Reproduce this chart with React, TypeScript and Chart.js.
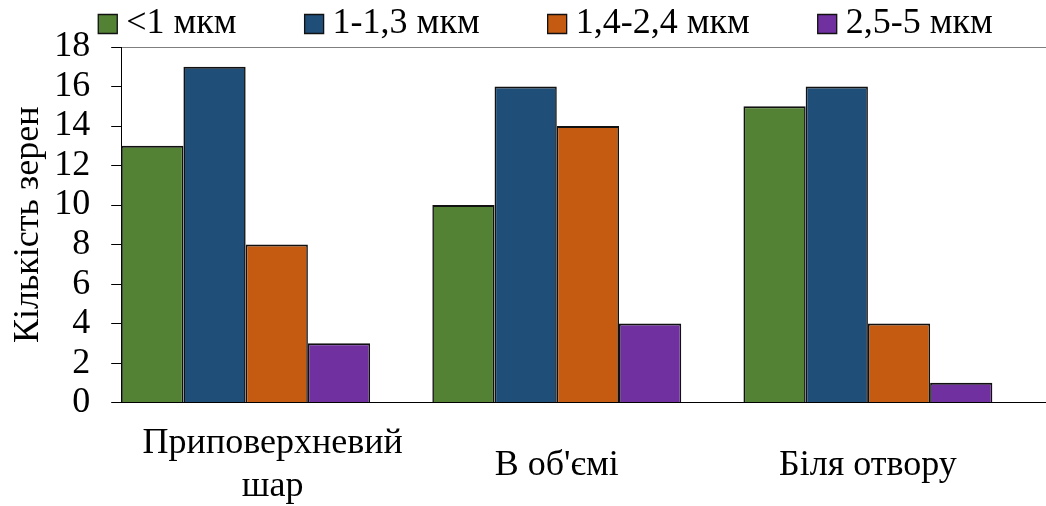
import React, { useEffect, useRef } from 'react';
import { Chart, registerables } from 'chart.js';

Chart.register(...registerables);

// ---- data ----
const categories = ['Приповерхневий шар', "В об'ємі", 'Біля отвору'];
const categoryLabelLines = [['      Приповерхневий', '      шар'], ["В об'ємі"], ['Біля отвору']];
const seriesNames = ['<1 мкм', '1-1,3 мкм', '1,4-2,4 мкм', '2,5-5 мкм'];
const seriesLess1 = [13, 10, 15];
const series1to13 = [17, 16, 16];
const series14to24 = [8, 14, 4];
const series25to5 = [3, 4, 1];
const seriesColors = ['#548235', '#1F4E79', '#C55A11', '#7030A0'];
const yMin = 0;
const yMax = 18;
const yStep = 2;
const yTitle = 'Кількість зерен';

const FONT = "'Liberation Serif', 'Times New Roman', serif";

export default function App() {
  const canvasRef = useRef<HTMLCanvasElement | null>(null);

  useEffect(() => {
    if (!canvasRef.current) return;
    const allSeries = [seriesLess1, series1to13, series14to24, series25to5];
    const chart = new Chart(canvasRef.current, {
      type: 'bar',
      data: {
        datasets: allSeries.map((vals, si) => ({
          label: seriesNames[si],
          data: vals.map((v, i) => ({ x: i, y: v })),
          backgroundColor: seriesColors[si],
          borderColor: '#111111',
          borderWidth: { top: 2, left: 1.6, right: 1.6, bottom: 0 },
          borderSkipped: 'start',
          categoryPercentage: 0.8,
          barPercentage: 1,
        })),
      },
      options: {
        animation: false,
        responsive: true,
        maintainAspectRatio: false,
        devicePixelRatio: 1,
        layout: { padding: { top: -71, left: 0, right: 0, bottom: -65 } },
        font: { family: FONT, size: 36 },
        color: '#000',
        plugins: {
          tooltip: { enabled: false },
          legend: {
            position: 'top',
            align: 'center',
            maxHeight: 118,
            labels: {
              usePointStyle: true,
              pointStyle: 'rect',
              boxWidth: 1,
              boxHeight: 19,
              padding: 77,
              color: '#000',
              font: { family: FONT, size: 36 },
            },
          },
        },
        scales: {
          x: {
            type: 'linear',
            min: -0.4,
            max: 2.746,
            offset: false,
            afterBuildTicks: (scale: any) => {
              scale.ticks = categories.map((_, i) => ({ value: i }));
            },
            grid: { display: false, drawTicks: false },
            border: { display: true, color: '#000', width: 1 },
            ticks: {
              autoSkip: false,
              maxRotation: 0,
              minRotation: 0,
              padding: 41,
              crossAlign: 'center',
              color: '#000',
              font: { family: FONT, size: 36 },
              callback: (value: any) => categoryLabelLines[Number(value)] ?? '',
            },
          },
          y: {
            type: 'linear',
            min: yMin,
            max: yMax,
            ticks: {
              stepSize: yStep,
              autoSkip: false,
              padding: 21,
              color: '#000',
              font: { family: FONT, size: 36 },
            },
            grid: {
              drawOnChartArea: true,
              color: (ctx: any) => (ctx.tick && ctx.tick.value === yMax ? '#7f7f7f' : 'rgba(0,0,0,0)'),
              tickColor: '#000',
              tickLength: 10,
            },
            border: { display: true, color: '#000', width: 1 },
            title: {
              display: true,
              text: yTitle,
              color: '#000',
              font: { family: FONT, size: 36 },
              padding: { top: 7, bottom: -17 },
            },
          },
        },
      },
    });
    return () => chart.destroy();
  }, []);

  return (
    <div style={{ position: 'absolute', left: 0, top: 0, width: 1046, height: 506, overflow: 'hidden', background: '#fff' }}>
      <div style={{ position: 'relative', width: 1100, height: 506 }}>
        <canvas ref={canvasRef} />
      </div>
    </div>
  );
}
